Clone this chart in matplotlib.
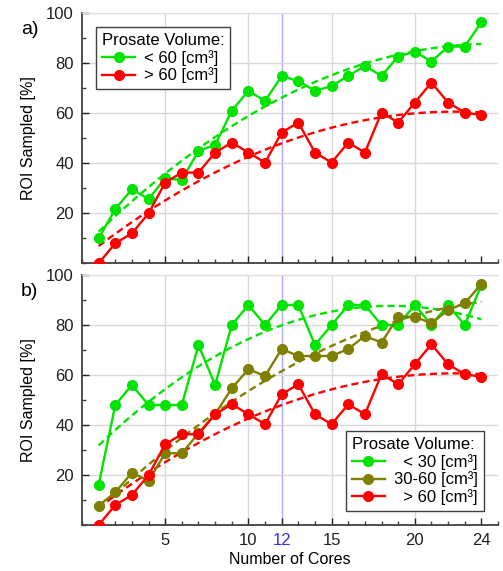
import numpy as np
import matplotlib
matplotlib.use("Agg")
import matplotlib.pyplot as plt
from matplotlib.ticker import MultipleLocator

plt.rcParams['font.family'] = ['Liberation Sans', 'DejaVu Sans']
plt.rcParams['font.size'] = 11

cores = np.arange(1, 25)

# Panel a)
a_lt60 = [10, 21.7, 29.6, 25.7, 34, 33.3, 45, 47.3, 61, 69, 64.9, 74.9, 72.9, 69,
          70.9, 75, 78.9, 75, 82.7, 84.7, 80.7, 86.7, 86.7, 96.4]
gt60 = [0, 8, 12, 20, 32.3, 36.3, 36.3, 44.3, 48.3, 44.3, 40.3, 52.3, 56.3, 44.3,
        40.3, 48.3, 44.3, 60.3, 56.3, 64.3, 72.3, 64.3, 60.3, 59.3]

# Panel b)
b_lt30 = [16, 48, 56, 48, 48, 48, 72, 56, 80, 88, 80, 88, 88, 72, 80, 88, 88, 80,
          80, 88, 80, 88, 80, 96]
b_30_60 = [7.7, 13.1, 20.9, 17.7, 28.7, 28.7, 36.7, 44.3, 54.7, 62.3, 59.6, 70.4,
           67.6, 67.6, 67.6, 70.4, 75.6, 73, 83.3, 83.3, 80.7, 86, 88.7, 96.4]

GREEN = '#00E400'
OLIVE = '#808000'
RED = '#FF0000'
BLUE = '#AAAAFF'

W, H = 503, 571
fig = plt.figure(figsize=(W / 100, H / 100), dpi=100)
ax1 = fig.add_axes([82 / W, 1 - 263.3 / H, 416 / W, 250 / H])
ax2 = fig.add_axes([82 / W, 1 - 525 / H, 416 / W, 250 / H])

xf = np.linspace(1, 24, 200)


def plot_series(ax, y, color, label):
    ax.plot(cores, y, '-o', color=color, lw=1.7, ms=7, label=label, zorder=4)
    c = np.polyfit(cores, y, 2)
    ax.plot(xf, np.polyval(c, xf), '--', color=color, lw=1.7, dashes=(3, 1.8),
            zorder=3)


plot_series(ax1, a_lt60, GREEN, '< 60 [cm³]')
plot_series(ax1, gt60, RED, '> 60 [cm³]')

plot_series(ax2, b_lt30, GREEN, '  < 30 [cm³]')
plot_series(ax2, b_30_60, OLIVE, '30-60 [cm³]')
plot_series(ax2, gt60, RED, '  > 60 [cm³]')

xticks = [5, 10, 12, 15, 20, 24]
for ax in (ax1, ax2):
    ax.set_xlim(0, 25)
    ax.set_ylim(0, 100)
    ax.set_xticks(xticks)
    ax.xaxis.set_minor_locator(MultipleLocator(1))
    ax.set_yticks([20, 40, 60, 80, 100])
    ax.yaxis.set_minor_locator(MultipleLocator(10))
    ax.tick_params(which='both', direction='in', color='#404040', width=1.0)
    ax.tick_params(which='major', length=5, pad=6, labelsize=12, colors='#202020')
    ax.tick_params(which='minor', length=3)
    ax.grid(True, which='major', color='#D8D8D8', lw=1.0)
    for s in ('left', 'bottom'):
        ax.spines[s].set_color('#404040')
        ax.spines[s].set_linewidth(1.3)
    ax.spines['right'].set_visible(False)
    ax.spines['top'].set_color('#DDDDDD')
    ax.set_ylabel('ROI Sampled [%]', fontsize=11.5, labelpad=7)
    gl = ax.xaxis.get_gridlines()
    gl[2].set_color(BLUE)
    gl[5].set_visible(False)

ax1.tick_params(axis='x', labelbottom=False)
ax2.set_xlabel('Number of Cores', fontsize=11.5, labelpad=3)
for lbl in ax2.get_xticklabels():
    if lbl.get_text() == '12':
        lbl.set_color('#3030FF')

legend_kw = dict(title='Prosate Volume:', alignment='left', fancybox=False,
                 edgecolor='#404040', framealpha=1, fontsize=12,
                 title_fontsize=12, handlelength=2.0, borderaxespad=0.85,
                 labelspacing=0.1, borderpad=0.35, handletextpad=0.55)
leg1 = ax1.legend(loc='upper left', **legend_kw)
leg1.get_frame().set_linewidth(1.0)

leg2 = ax2.legend(loc='lower right', **legend_kw)
leg2.get_frame().set_linewidth(1.0)

fig.text(21 / W, 1 - 30 / H, 'a)', fontsize=14, va='center', ha='left')
fig.text(21 / W, 1 - 292 / H, 'b)', fontsize=14, va='center', ha='left')

fig.savefig('out.png', dpi=100)
